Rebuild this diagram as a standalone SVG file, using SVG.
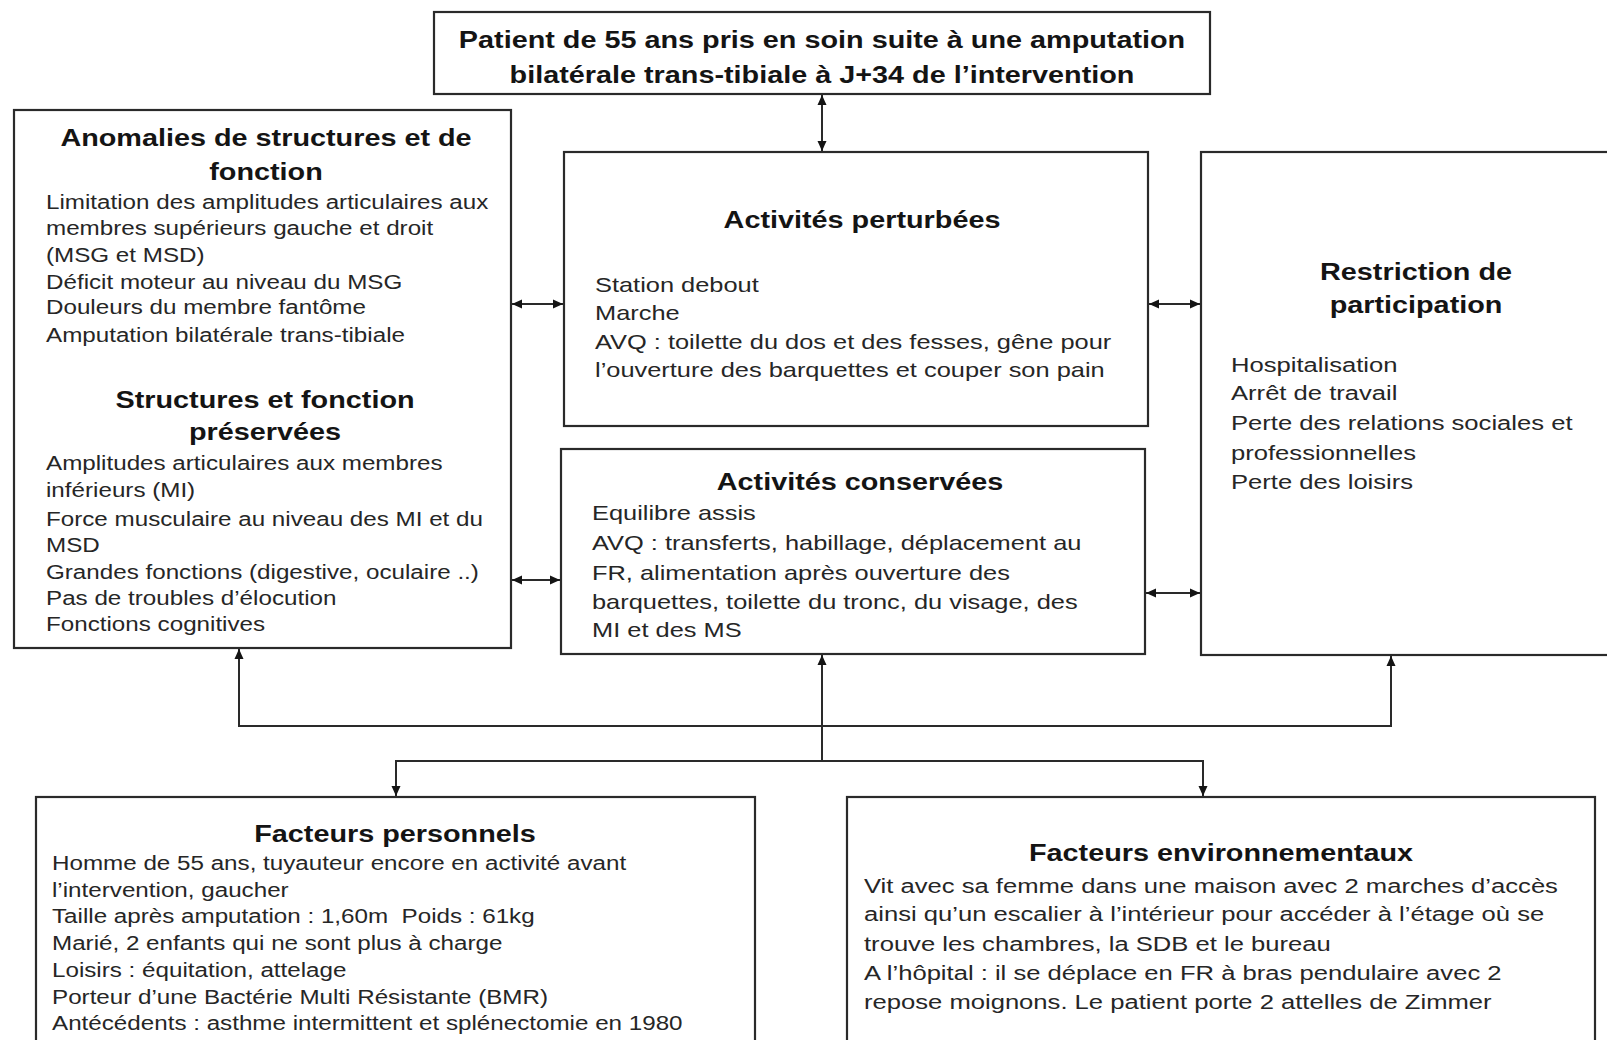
<svg xmlns="http://www.w3.org/2000/svg" width="1607" height="1040" viewBox="0 0 1607 1040">
<style>
.box{fill:#fff;stroke:#2a2a2a;stroke-width:2.2}
.c{fill:none;stroke:#2a2a2a;stroke-width:2}
.h{font-family:"Liberation Sans",Arial,sans-serif;font-weight:bold;font-size:24px;fill:#141414;text-anchor:middle}
.b{font-family:"Liberation Sans",Arial,sans-serif;font-size:20px;fill:#262626;white-space:pre}
.b21{font-size:21px}
</style>
<defs>
<marker id="ah" viewBox="0 0 10 10" refX="10" refY="5" markerWidth="10" markerHeight="10" markerUnits="userSpaceOnUse" orient="auto-start-reverse">
<path d="M0,0.5 L10,5 L0,9.5 z" fill="#141414"/>
</marker>
</defs>
<rect width="1607" height="1040" fill="#fff"/>

<g id="connectors">
<line class="c" x1="822" y1="95" x2="822" y2="151" marker-start="url(#ah)" marker-end="url(#ah)"/>
<line class="c" x1="512" y1="304" x2="563" y2="304" marker-start="url(#ah)" marker-end="url(#ah)"/>
<line class="c" x1="1149" y1="304" x2="1200" y2="304" marker-start="url(#ah)" marker-end="url(#ah)"/>
<line class="c" x1="512" y1="580" x2="560" y2="580" marker-start="url(#ah)" marker-end="url(#ah)"/>
<line class="c" x1="1146" y1="593" x2="1200" y2="593" marker-start="url(#ah)" marker-end="url(#ah)"/>
<line class="c" x1="822" y1="761" x2="822" y2="655" marker-end="url(#ah)"/>
<polyline class="c" points="239,649 239,726 1391,726 1391,656" marker-start="url(#ah)" marker-end="url(#ah)"/>
<polyline class="c" points="396,796 396,761 1203,761 1203,796" marker-start="url(#ah)" marker-end="url(#ah)"/>
</g>

<g id="patient">
<rect class="box" x="434" y="12" width="776" height="82"/>
<text class="h" transform="translate(822 0) scale(1.2 1)"><tspan x="0" y="48">Patient de 55 ans pris en soin suite à une amputation</tspan><tspan x="0" y="83">bilatérale trans-tibiale à J+34 de l’intervention</tspan></text>
</g>

<g id="anomalies">
<rect class="box" x="14" y="110" width="497" height="538"/>
<text class="h" transform="translate(266 0) scale(1.2 1)"><tspan x="0" y="146">Anomalies de structures et de</tspan><tspan x="0" y="180">fonction</tspan></text>
<text class="b" transform="translate(46 0) scale(1.21 1)"><tspan x="0" y="209">Limitation des amplitudes articulaires aux</tspan><tspan x="0" y="235">membres supérieurs gauche et droit</tspan><tspan x="0" y="262">(MSG et MSD)</tspan><tspan x="0" y="289">Déficit moteur au niveau du MSG</tspan><tspan x="0" y="314">Douleurs du membre fantôme</tspan><tspan x="0" y="342">Amputation bilatérale trans-tibiale</tspan></text>
<text class="h" transform="translate(265 0) scale(1.2 1)"><tspan x="0" y="408">Structures et fonction</tspan><tspan x="0" y="440">préservées</tspan></text>
<text class="b" transform="translate(46 0) scale(1.21 1)"><tspan x="0" y="470">Amplitudes articulaires aux membres</tspan><tspan x="0" y="497">inférieurs (MI)</tspan><tspan x="0" y="526">Force musculaire au niveau des MI et du</tspan><tspan x="0" y="552">MSD</tspan><tspan x="0" y="579">Grandes fonctions (digestive, oculaire ..)</tspan><tspan x="0" y="605">Pas de troubles d’élocution</tspan><tspan x="0" y="631">Fonctions cognitives</tspan></text>
</g>

<g id="activites-perturbees">
<rect class="box" x="564" y="152" width="584" height="274"/>
<text class="h" transform="translate(862 0) scale(1.2 1)"><tspan x="0" y="228">Activités perturbées</tspan></text>
<text class="b b21" transform="translate(595 0) scale(1.21 1)"><tspan x="0" y="292">Station debout</tspan><tspan x="0" y="320">Marche</tspan><tspan x="0" y="349">AVQ : toilette du dos et des fesses, gêne pour</tspan><tspan x="0" y="377">l’ouverture des barquettes et couper son pain</tspan></text>
</g>

<g id="activites-conservees">
<rect class="box" x="561" y="449" width="584" height="205"/>
<text class="h" transform="translate(860 0) scale(1.2 1)"><tspan x="0" y="490">Activités conservées</tspan></text>
<text class="b b21" transform="translate(592 0) scale(1.21 1)"><tspan x="0" y="520">Equilibre assis</tspan><tspan x="0" y="550">AVQ : transferts, habillage, déplacement au</tspan><tspan x="0" y="580">FR, alimentation après ouverture des</tspan><tspan x="0" y="609">barquettes, toilette du tronc, du visage, des</tspan><tspan x="0" y="637">MI et des MS</tspan></text>
</g>

<g id="restriction">
<rect class="box" x="1201" y="152" width="430" height="503"/>
<text class="h" transform="translate(1416 0) scale(1.2 1)"><tspan x="0" y="280">Restriction de</tspan><tspan x="0" y="313">participation</tspan></text>
<text class="b b21" transform="translate(1231 0) scale(1.22 1)"><tspan x="0" y="372">Hospitalisation</tspan><tspan x="0" y="400">Arrêt de travail</tspan><tspan x="0" y="430">Perte des relations sociales et</tspan><tspan x="0" y="460">professionnelles</tspan><tspan x="0" y="489">Perte des loisirs</tspan></text>
</g>

<g id="facteurs-personnels">
<rect class="box" x="36" y="797" width="719" height="270"/>
<text class="h" transform="translate(395 0) scale(1.2 1)"><tspan x="0" y="842">Facteurs personnels</tspan></text>
<text class="b" transform="translate(52 0) scale(1.21 1)"><tspan x="0" y="870">Homme de 55 ans, tuyauteur encore en activité avant</tspan><tspan x="0" y="897">l’intervention, gaucher</tspan><tspan x="0" y="923">Taille après amputation : 1,60m  Poids : 61kg</tspan><tspan x="0" y="950">Marié, 2 enfants qui ne sont plus à charge</tspan><tspan x="0" y="977">Loisirs : équitation, attelage</tspan><tspan x="0" y="1004">Porteur d’une Bactérie Multi Résistante (BMR)</tspan><tspan x="0" y="1030">Antécédents : asthme intermittent et splénectomie en 1980</tspan></text>
</g>

<g id="facteurs-environnementaux">
<rect class="box" x="847" y="797" width="748" height="270"/>
<text class="h" transform="translate(1221 0) scale(1.2 1)"><tspan x="0" y="861">Facteurs environnementaux</tspan></text>
<text class="b b21" transform="translate(864 0) scale(1.22 1)"><tspan x="0" y="893">Vit avec sa femme dans une maison avec 2 marches d’accès</tspan><tspan x="0" y="921">ainsi qu’un escalier à l’intérieur pour accéder à l’étage où se</tspan><tspan x="0" y="951">trouve les chambres, la SDB et le bureau</tspan><tspan x="0" y="980">A l’hôpital : il se déplace en FR à bras pendulaire avec 2</tspan><tspan x="0" y="1009">repose moignons. Le patient porte 2 attelles de Zimmer</tspan></text>
</g>
</svg>
